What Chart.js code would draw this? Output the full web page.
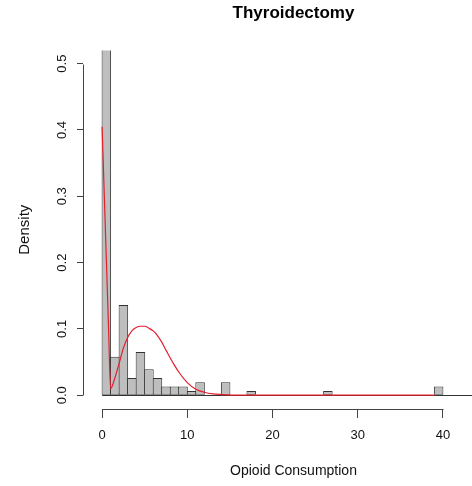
<!DOCTYPE html>
<html>
<head>
<meta charset="utf-8">
<title>Thyroidectomy</title>
<script src="https://cdn.jsdelivr.net/npm/chart.js@4.4.1/dist/chart.umd.min.js"></script>
<style>
  html, body { margin: 0; padding: 0; background: #fff; overflow: hidden; }
  #wrap { width: 504px; height: 486px; }
</style>
</head>
<body>
<div id="wrap"><canvas id="histChart" width="504" height="486"></canvas></div>
<script>
// histogram: bins of width 1, densities
const binStarts = [0, 1, 2, 3, 4, 5, 6, 7, 8, 9, 10, 11, 12, 13, 14, 15, 16, 17, 18, 19,
                   20, 21, 22, 23, 24, 25, 26, 27, 28, 29, 30, 31, 32, 33, 34, 35, 36, 37, 38, 39];
const densities = [0.539, 0.058, 0.136, 0.026, 0.065, 0.039, 0.026, 0.013, 0.013, 0.013,
                   0.0065, 0.0195, 0, 0, 0.0195, 0, 0, 0.0065, 0, 0,
                   0, 0, 0, 0, 0, 0, 0.0065, 0, 0, 0,
                   0, 0, 0, 0, 0, 0, 0, 0, 0, 0.013];

// fitted density curve (red)
const curveX = [0, 0.25, 0.5, 0.75, 1, 1.5, 2, 2.5, 3, 3.5, 4, 4.5, 5, 5.5, 6, 6.5, 7, 7.5,
                8, 8.5, 9, 10, 11, 12, 13, 14, 16, 20, 30, 39];
const curveY = [0.405, 0.305, 0.205, 0.105, 0.01, 0.026, 0.048, 0.071, 0.087, 0.097, 0.102, 0.104,
                0.104, 0.101, 0.097, 0.090, 0.080, 0.068, 0.056, 0.045, 0.035, 0.019, 0.009, 0.0045,
                0.002, 0.001, 0, 0, 0, 0];

const xTicks = [0, 10, 20, 30, 40];
const yTicks = [0, 0.1, 0.2, 0.3, 0.4, 0.5];

const fontFamily = "'Liberation Sans', Arial, Helvetica, sans-serif";
const axisColor = '#444';

// R style axes: the axis line only spans the tick range, plus a zero line under the bars
const rAxes = {
    id: 'rAxes',
    beforeDatasetsDraw(chart) {
        const { ctx, chartArea, scales: { x, y } } = chart;
        const y0 = Math.round(y.getPixelForValue(0)) + 0.5;
        ctx.save();
        ctx.strokeStyle = '#333';
        ctx.lineWidth = 1;
        ctx.beginPath();
        ctx.moveTo(x.getPixelForValue(binStarts[0]), y0);
        ctx.lineTo(chartArea.right, y0);
        ctx.stroke();
        ctx.restore();
    },
    afterDraw(chart) {
        const { ctx, chartArea, scales: { x, y } } = chart;
        ctx.save();
        ctx.strokeStyle = axisColor;
        ctx.lineWidth = 1;
        const by = Math.round(chartArea.bottom) + 0.5;
        ctx.beginPath();
        ctx.moveTo(Math.round(x.getPixelForValue(xTicks[0])) + 0.5, by);
        ctx.lineTo(Math.round(x.getPixelForValue(xTicks[xTicks.length - 1])) + 0.5, by);
        ctx.stroke();
        const lx = Math.round(chartArea.left) + 0.5;
        ctx.beginPath();
        ctx.moveTo(lx, Math.round(y.getPixelForValue(yTicks[0])) + 0.5);
        ctx.lineTo(lx, Math.round(y.getPixelForValue(yTicks[yTicks.length - 1])) + 0.5);
        ctx.stroke();
        ctx.restore();
    }
};

const barData = binStarts.map((b, i) => ({ x: b + 0.5, y: densities[i] }));
const curveData = curveX.map((v, i) => ({ x: v, y: curveY[i] }));

new Chart(document.getElementById('histChart'), {
    type: 'bar',
    data: {
        datasets: [
            {
                type: 'line',
                data: curveData,
                borderColor: 'rgb(228, 30, 45)',
                borderWidth: 1.2,
                pointRadius: 0,
                cubicInterpolationMode: 'monotone',
                order: 0
            },
            {
                type: 'bar',
                data: barData,
                backgroundColor: '#bebebe',
                borderColor: '#333',
                borderWidth: 1,
                borderSkipped: false,
                inflateAmount: 0,
                barPercentage: 1.117,
                categoryPercentage: 1,
                order: 1
            }
        ]
    },
    options: {
        responsive: false,
        animation: false,
        events: [],
        layout: { padding: 0 },
        plugins: {
            legend: { display: false },
            tooltip: { enabled: false },
            title: {
                display: true,
                text: 'Thyroidectomy',
                fullSize: false,
                color: '#000',
                font: { family: fontFamily, size: 17, weight: 'bold' },
                padding: { top: 3, bottom: 27 }
            }
        },
        scales: {
            x: {
                type: 'linear',
                min: -2.24,
                max: 47.17,
                offset: false,
                border: { display: false },
                grid: { display: true, drawOnChartArea: false, offset: false, tickLength: 9, color: axisColor },
                afterBuildTicks: scale => { scale.ticks = xTicks.map(v => ({ value: v })); },
                afterFit: scale => { scale.height = 77; },
                ticks: {
                    autoSkip: false,
                    maxRotation: 0,
                    padding: 10,
                    color: '#111',
                    font: { family: fontFamily, size: 13 },
                    callback: v => String(v)
                },
                title: {
                    display: true,
                    text: 'Opioid Consumption',
                    color: '#111',
                    font: { family: fontFamily, size: 14 },
                    padding: { top: 0, bottom: 6 }
                }
            },
            y: {
                type: 'linear',
                min: -0.0208,
                max: 0.52,
                border: { display: false },
                grid: { display: true, drawOnChartArea: false, tickLength: 6, color: axisColor },
                afterBuildTicks: scale => { scale.ticks = yTicks.map(v => ({ value: v })); },
                afterFit: scale => { scale.width = 83; },
                ticks: {
                    autoSkip: false,
                    minRotation: 90,
                    maxRotation: 90,
                    crossAlign: 'center',
                    padding: 6,
                    color: '#111',
                    font: { family: fontFamily, size: 13 },
                    callback: v => v.toFixed(1)
                },
                title: {
                    display: true,
                    text: 'Density',
                    color: '#111',
                    font: { family: fontFamily, size: 15 },
                    padding: { top: 16, bottom: 0 }
                }
            }
        }
    },
    plugins: [rAxes]
});
</script>
</body>
</html>
